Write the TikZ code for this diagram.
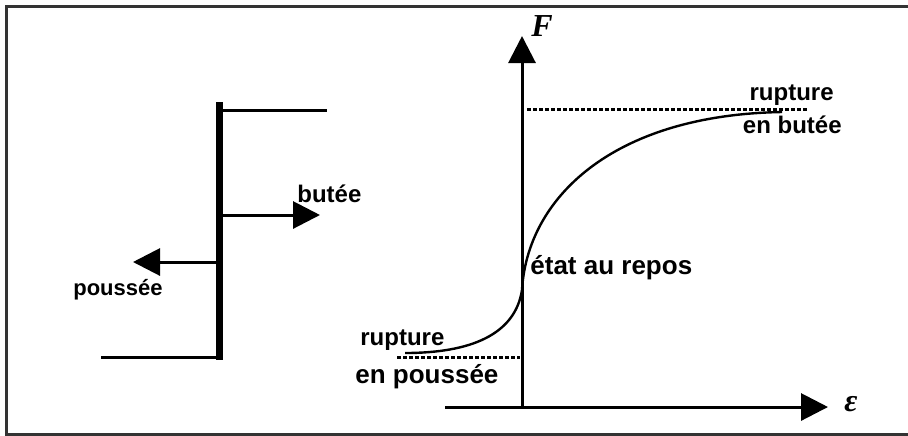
\documentclass[tikz,border=0pt]{standalone}
\usepackage{fontspec}
\setmainfont{Liberation Sans}
\newfontfamily\timesfont{Liberation Serif}
\usetikzlibrary{arrows.meta, positioning}

\begin{document}
\begin{tikzpicture}[x=0.5pt, y=-0.5pt,
    every node/.style={font=\bfseries\fontsize{12}{14}\selectfont, inner sep=0pt},
    big/.style={font=\bfseries\fontsize{13}{15}\selectfont},
    axislabel/.style={font=\timesfont\bfseries\itshape\fontsize{16}{16}\selectfont},
    frame/.style={line width=1.5pt, black!80},
    thinline/.style={line width=1.5pt},
    force/.style={line width=1.5pt, -{Triangle[length=13.5pt, width=13.5pt]}},
    limit/.style={line width=1.5pt, dash pattern=on 2pt off 1pt}]
    \useasboundingbox (0,0) rectangle (908,435);

    % Define coordinates
    \coordinate (WallTop) at (219,102);
    \coordinate (WallBot) at (219,360);
    \coordinate (Butee) at (219,215);
    \coordinate (ButeeTip) at (320,215);
    \coordinate (Poussee) at (219,262);
    \coordinate (PousseeTip) at (133,262);
    \coordinate (O) at (522,407);
    \coordinate (FTip) at (522,36);
    \coordinate (EpsStart) at (445,407);
    \coordinate (EpsTip) at (828,407);
    \coordinate (Repos) at (522,290);
    \coordinate (RupB) at (782,112);
    \coordinate (RupP) at (405,353);

    % Frame
    \draw[frame] (915,6) -- (6,6) -- (6,434) -- (915,434);

    % Draw the wall and the ground
    \draw[line width=3.5pt] (WallTop) -- (WallBot);
    \draw[thinline] (222,110) -- (327,110);
    \draw[thinline] (101,357) -- (216,357);

    % Draw forces
    \draw[force] (Butee) -- (ButeeTip);
    \draw[force] (Poussee) -- (PousseeTip);
    \node[anchor=base west] (lbutee) at (297,202) {butée};
    \node[anchor=base east, font=\bfseries\fontsize{11}{13}\selectfont] (lpoussee) at (163,295) {poussée};

    % Draw axes
    \draw[force] (O) -- (FTip);
    \draw[force] (EpsStart) -- (EpsTip);
    \node[axislabel] (lF) at (542,26) {F};
    \node[axislabel] (leps) at (851,404) {ε};

    % Draw limits
    \draw[limit] (527,109) -- (808,109);
    \draw[limit] (397,357) -- (520,357);

    % Draw the curve
    \draw[line width=1.2pt] (RupP) .. controls (470,353) and (515,335) .. (Repos)
        .. controls (527,200) and (610,115) .. (RupB);

    % Labels
    \node[big, anchor=base west] (lrepos) at (530,274) {état au repos};
    \node[anchor=base east] (lrupb1) at (834,100) {rupture};
    \node[anchor=base east] (lrupb2) at (842,133) {en butée};
    \node[anchor=base west] (lrupp1) at (360,345) {rupture};
    \node[big, anchor=base west] (lrupp2) at (355,383) {en poussée};
\end{tikzpicture}
\end{document}
